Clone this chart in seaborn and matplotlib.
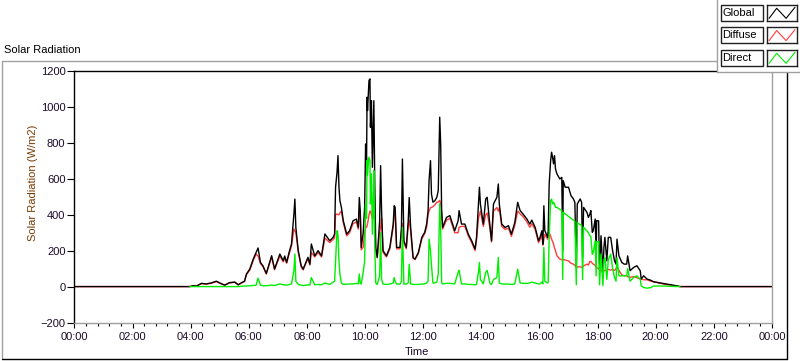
import numpy as np
import pandas as pd
import matplotlib
matplotlib.use('Agg')
import matplotlib.pyplot as plt
import seaborn as sns
from matplotlib.patches import Rectangle
from matplotlib.lines import Line2D

# minutes since midnight
minutes = [0, 238, 245, 252, 262, 272, 282, 293, 300, 310, 320, 331, 338, 345, 351, 355,
           362, 369, 375, 379, 384, 389, 396, 407, 413, 424, 431, 434, 438, 444, 448, 453,
           455, 457, 462, 468, 472, 479, 482, 486, 489, 496, 503, 510, 517, 527, 534, 537,
           539, 542, 544, 546, 548, 551, 555, 562, 568, 575, 582, 586, 588, 590, 592, 596,
           599, 601, 603, 604, 605, 607, 608, 610, 611, 613, 615, 617, 618, 620, 622, 625,
           630, 632, 634, 637, 644, 651, 658, 660, 662, 665, 672, 675, 677, 680, 685, 689,
           691, 694, 699, 703, 710, 717, 723, 727, 730, 732, 735, 737, 740, 744, 748, 751,
           754, 756, 758, 760, 768, 775, 785, 792, 794, 799, 806, 813, 820, 827, 830, 834,
           836, 838, 844, 849, 852, 858, 861, 865, 872, 875, 877, 882, 889, 896, 902, 909,
           915, 920, 926, 934, 940, 944, 951, 958, 961, 965, 967, 969, 971, 977, 978, 980,
           983, 985, 987, 989, 991, 993, 996, 1002, 1006, 1008, 1009, 1013, 1020, 1025, 1030, 1033,
           1036, 1038, 1044, 1047, 1049, 1051, 1058, 1061, 1064, 1066, 1069, 1071, 1075, 1077, 1078, 1082,
           1084, 1087, 1091, 1093, 1095, 1099, 1102, 1107, 1111, 1115, 1118, 1120, 1124, 1130, 1135, 1140,
           1142, 1147, 1154, 1161, 1168, 1170, 1175, 1182, 1190, 1195, 1216, 1230, 1244, 1250, 1440]

global_rad = [0, 0, 5, 3, 18, 15, 20, 30, 20, 8, 22, 25, 10, 22, 30, 70,
              98, 153, 190, 215, 134, 116, 73, 172, 98, 181, 144, 170, 135, 200, 237, 404,
              487, 330, 200, 116, 97, 144, 163, 125, 237, 171, 200, 171, 293, 255, 274, 293,
              553, 636, 729, 553, 478, 441, 366, 292, 311, 366, 376, 330, 496, 422, 218, 300,
              441, 794, 700, 1054, 980, 1091, 1147, 1156, 887, 1035, 664, 900, 1035, 560, 218, 163,
              366, 673, 422, 200, 171, 218, 348, 450, 441, 218, 218, 329, 710, 255, 218, 366,
              496, 329, 162, 153, 190, 274, 302, 348, 422, 590, 701, 515, 470, 478, 497, 534,
              943, 794, 423, 330, 385, 395, 311, 366, 423, 348, 348, 292, 255, 209, 273, 459,
              553, 459, 348, 488, 497, 330, 255, 460, 497, 571, 460, 348, 329, 339, 292, 357,
              469, 423, 404, 376, 348, 370, 330, 255, 274, 311, 236, 450, 311, 274, 311, 571,
              701, 748, 720, 683, 729, 655, 627, 599, 608, 200, 590, 553, 553, 506, 488, 469,
              110, 460, 488, 469, 162, 441, 413, 385, 404, 423, 302, 311, 376, 172, 367, 366,
              95, 283, 80, 218, 274, 143, 274, 274, 199, 143, 125, 264, 171, 134, 125, 125,
              171, 88, 106, 116, 88, 42, 60, 42, 35, 27, 17, 10, 4, 0, 0]

diffuse_rad = [0, 0, 5, 3, 16, 14, 18, 28, 19, 8, 20, 24, 10, 20, 28, 66,
               92, 145, 180, 170, 128, 112, 70, 165, 94, 170, 138, 160, 130, 190, 225, 320,
               310, 300, 192, 110, 92, 138, 155, 120, 190, 165, 190, 165, 270, 245, 262, 270,
               400, 404, 400, 400, 410, 420, 355, 282, 300, 350, 360, 320, 420, 400, 205, 220,
               300, 330, 330, 340, 350, 380, 400, 420, 420, 400, 380, 390, 400, 360, 200, 160,
               300, 330, 380, 190, 165, 210, 330, 400, 410, 210, 210, 300, 350, 245, 210, 340,
               370, 310, 158, 150, 185, 265, 295, 330, 400, 420, 440, 440, 445, 455, 470, 470,
               480, 460, 410, 320, 370, 380, 300, 300, 330, 335, 335, 282, 245, 200, 260, 380,
               400, 420, 335, 400, 410, 320, 248, 420, 440, 420, 440, 335, 318, 325, 280, 340,
               420, 405, 390, 360, 330, 350, 318, 245, 260, 290, 230, 264, 290, 264, 300, 300,
               280, 264, 250, 237, 215, 200, 172, 153, 150, 150, 150, 148, 143, 130, 125, 118,
               106, 110, 110, 108, 110, 115, 125, 120, 140, 140, 130, 125, 118, 110, 105, 100,
               95, 92, 75, 88, 90, 92, 95, 92, 95, 90, 100, 110, 90, 65, 60, 62,
               55, 52, 55, 50, 42, 42, 38, 38, 30, 28, 14, 8, 3, 0, 0]

# the direct trace is only drawn from about 04:00 to 20:50
direct_rad = [None, 0, 0, 0, 0, 0, 0, 0, 0, 0, 0, 0, 0, 2, 3, 4,
              5, 6, 8, 47, 8, 5, 5, 8, 6, 15, 10, 10, 8, 12, 15, 88,
              181, 30, 12, 8, 6, 8, 10, 8, 50, 10, 12, 10, 20, 12, 25, 30,
              144, 311, 290, 144, 70, 20, 12, 14, 14, 15, 18, 15, 70, 20, 14, 80,
              140, 459, 380, 702, 620, 700, 720, 700, 460, 627, 292, 500, 646, 218, 20, 12,
              60, 300, 40, 14, 12, 14, 20, 50, 30, 14, 14, 30, 330, 14, 14, 20,
              125, 15, 12, 12, 12, 14, 15, 20, 30, 264, 200, 120, 20, 20, 25, 70,
              460, 330, 20, 15, 18, 18, 15, 79, 90, 15, 15, 12, 12, 10, 12, 80,
              134, 40, 15, 79, 90, 15, 12, 40, 50, 162, 20, 15, 14, 14, 12, 15,
              97, 20, 18, 18, 20, 25, 20, 15, 15, 25, 15, 218, 30, 20, 25, 274,
              478, 487, 460, 470, 460, 441, 441, 430, 425, 40, 413, 405, 390, 380, 370, 365,
              10, 355, 345, 340, 40, 330, 310, 300, 283, 280, 180, 190, 255, 60, 250, 250,
              10, 180, 5, 150, 160, 40, 150, 180, 100, 50, 30, 160, 60, 60, 60, 60,
              100, 30, 50, 60, 40, 5, -5, -9, -5, 3, 3, 2, 1, 0, None]

series_names = ['Global', 'Diffuse', 'Direct']
series_colors = {'Global': '#000000', 'Diffuse': '#ff3c3c', 'Direct': '#00ee00'}
tick_hours = list(range(0, 25, 2))
tick_labels = ['00:00', '02:00', '04:00', '06:00', '08:00', '10:00', '12:00',
               '14:00', '16:00', '18:00', '20:00', '22:00', '00:00']
y_ticks = list(range(-200, 1201, 200))

df = pd.DataFrame({'hours': np.array(minutes) / 60.0,
                   'Global': global_rad, 'Diffuse': diffuse_rad,
                   'Direct': pd.to_numeric(pd.Series(direct_rad, dtype='float'))})

sns.set_style('white')
plt.rcParams['font.family'] = ['Liberation Sans', 'DejaVu Sans']
plt.rcParams['font.size'] = 8

fig = plt.figure(figsize=(8, 3.61), dpi=100)
ax = fig.add_axes([0.0931, 0.1066, 0.8719, 0.6967])

# diffuse under global, direct on top
for name, z in [('Diffuse', 2), ('Global', 3), ('Direct', 4)]:
    sub = df[['hours', name]].dropna()
    sns.lineplot(data=sub, x='hours', y=name, color=series_colors[name], lw=1.0,
                 ax=ax, zorder=z, estimator=None)

ax.set_xlim(0, 24)
ax.set_ylim(-200, 1200)
ax.set_xticks(tick_hours)
ax.set_xticklabels(tick_labels)
ax.set_xticks(np.arange(0, 24.01, 0.4), minor=True)
ax.set_yticks(y_ticks)

for s in ['left', 'top']:
    ax.spines[s].set_color('black')
    ax.spines[s].set_linewidth(1)
for s in ['right', 'bottom']:
    ax.spines[s].set_color('#a0a0a0')
    ax.spines[s].set_linewidth(1)

ax.tick_params(axis='y', direction='out', length=5, width=0.8, pad=1.5,
               color='black', labelcolor='#1a0a2a', left=True)
ax.tick_params(axis='x', which='major', direction='out', length=3.5, width=0.8, pad=3,
               color='black', labelcolor='#1a0a2a', bottom=True)
ax.tick_params(axis='x', which='minor', direction='out', length=2, width=0.8,
               color='black', bottom=True)

ax.set_ylabel('Solar Radiation (W/m2)', color='#7a3a00')
ax.yaxis.set_label_coords(-0.053, 0.555)
ax.set_xlabel('Time', color='#1a0a2a')
ax.xaxis.set_label_coords(0.491, -0.097)


def fx(px):
    return px / 800.0


def fy(py):
    return 1 - py / 361.0


fig.text(fx(4), fy(50), 'Solar Radiation', ha='left', va='center', color='black')

# sunken panel frame
frame = [((2, 61), (717, 61), '#a0a0a0'), ((2, 61), (2, 359), '#a0a0a0'),
         ((2, 359), (787, 359), 'black'), ((787, 72), (787, 359), 'black')]
for (x0, y0), (x1, y1), c in frame:
    fig.add_artist(Line2D([fx(x0), fx(x1)], [fy(y0), fy(y1)], color=c, lw=1,
                          transform=fig.transFigure))

# legend panel
fig.add_artist(Rectangle((fx(717), fy(72)), fx(83), 72 / 361.0, transform=fig.transFigure,
                         facecolor='white', edgecolor='none', zorder=5))
fig.add_artist(Line2D([fx(717), fx(717)], [fy(0), fy(72)], color='#a0a0a0', lw=1,
                      transform=fig.transFigure, zorder=6))
fig.add_artist(Line2D([fx(717), fx(800)], [fy(72), fy(72)], color='#a0a0a0', lw=1,
                      transform=fig.transFigure, zorder=6))

row_tops = [5, 27.3, 50]
for name, top in zip(series_names, row_tops):
    h = 15.7
    fig.add_artist(Rectangle((fx(720.7), fy(top + h)), fx(42.6), h / 361.0,
                             transform=fig.transFigure, facecolor='white',
                             edgecolor='#202020', lw=1, zorder=7))
    fig.text(fx(722.5), fy(top + h / 2), name, ha='left', va='center', color='black', zorder=8)
    sax = fig.add_axes([fx(767.3), fy(top + h), fx(29.4), h / 361.0], zorder=9)
    sax.plot([0.06, 0.32, 0.64, 0.94], [0.15, 0.79, 0.15, 0.85],
             color=series_colors[name], lw=0.8)
    sax.set_xlim(0, 1)
    sax.set_ylim(0, 1)
    sax.set_xticks([])
    sax.set_yticks([])
    for s in sax.spines.values():
        s.set_color('#202020')
        s.set_linewidth(1)

fig.savefig('out.png', dpi=100)
